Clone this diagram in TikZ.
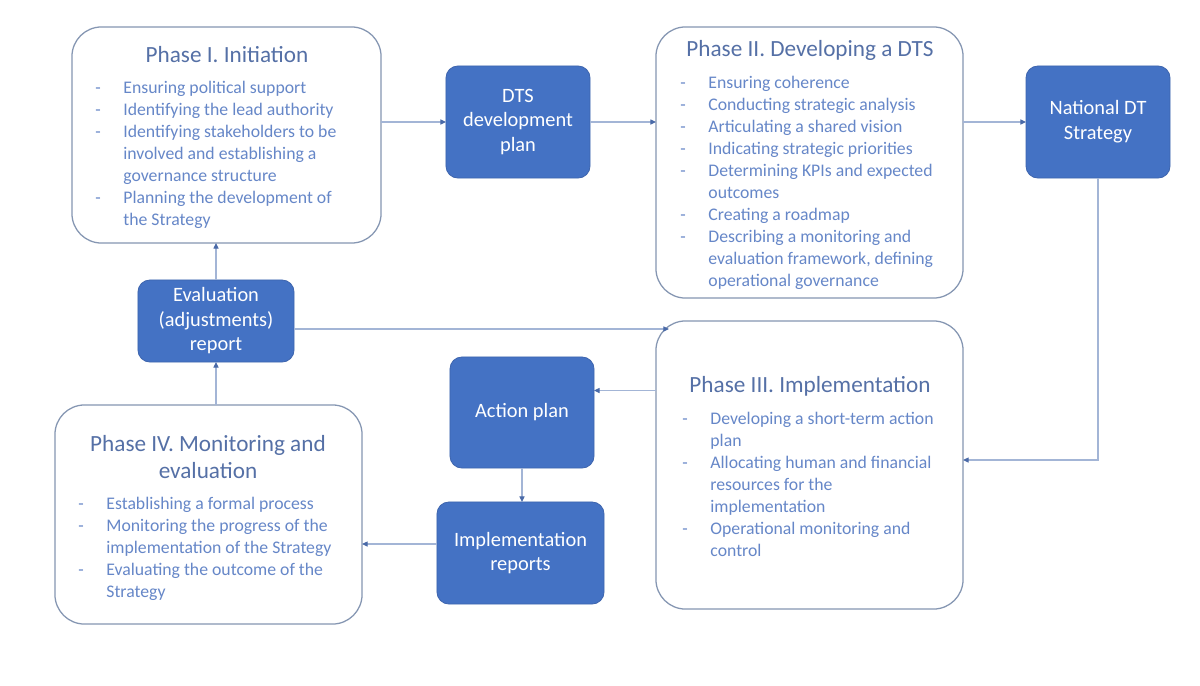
\documentclass[tikz,border=0pt]{standalone}
\usepackage{fontspec}
\setmainfont{Carlito}
\usetikzlibrary{arrows.meta,calc}
\definecolor{bfill}{HTML}{4472C4}
\definecolor{bdraw}{HTML}{3E65AE}
\definecolor{pborder}{HTML}{8596B2}
\definecolor{titlec}{HTML}{5570A6}
\definecolor{itemc}{HTML}{6687C8}
\definecolor{linec}{HTML}{A3B5D6}
\definecolor{tipc}{HTML}{4A6AA8}
\newcommand\dashitem[1]{\makebox[20pt][l]{-}#1}
\newcommand\contitem[1]{\hspace*{20pt}#1}
\begin{document}
\begin{tikzpicture}[x=0.025cm,y=-0.025cm,
  phasebox/.style={draw=pborder,line width=0.9pt,rounded corners=21pt,fill=white,inner sep=0pt,outer sep=0pt},
  bluebox/.style={draw=bdraw,line width=0.6pt,fill=bfill,rounded corners=8.5pt,inner sep=0pt,outer sep=0pt,
    text=white,align=center,font=\fontsize{14.5}{17.7}\selectfont},
  ptitle/.style={text=titlec,font=\fontsize{16.5}{19.8}\selectfont,inner sep=0pt,align=center},
  plist/.style={text=itemc,font=\fontsize{12.6}{15.6}\selectfont,inner sep=0pt,align=left,anchor=north west},
  conn/.style={draw=linec,line width=0.8pt,-{Triangle[length=4pt,width=3.6pt,color=tipc]}}
]
\fill[white] (0,0) rectangle (1200,685);
\useasboundingbox (0,0) rectangle (1200,685);

% boxes
\node[phasebox,minimum width=7.725cm,minimum height=5.4cm] (p1) at (226.5,135) {};
\node[bluebox,minimum width=3.6cm,minimum height=2.8cm] (dts) at (518,122) {DTS\\development\\plan};
\node[phasebox,minimum width=7.675cm,minimum height=6.775cm] (p2) at (809.5,162.5) {};
\node[bluebox,minimum width=3.6cm,minimum height=2.8cm] (ndt) at (1098,122) {National DT\\Strategy};
\node[bluebox,minimum width=3.9cm,minimum height=2.05cm,font=\fontsize{14.5}{17.4}\selectfont] (ev) at (216,321) {Evaluation\\(adjustments)\\report};
\node[phasebox,minimum width=7.675cm,minimum height=7.2cm] (p3) at (809.5,465) {};
\node[bluebox,minimum width=3.6cm,minimum height=2.775cm] (ap) at (522,412.5) {Action plan};
\node[phasebox,minimum width=7.675cm,minimum height=5.475cm] (p4) at (208.5,514.5) {};
\node[bluebox,minimum width=4.175cm,minimum height=2.55cm] (ir) at (520.5,553) {Implementation\\reports};

% titles
\node[ptitle] (p1t) at (227,55) {Phase I. Initiation};
\node[ptitle] (p2t) at (810,50) {Phase II. Developing a DTS};
\node[ptitle] (p3t) at (810,386) {Phase III. Implementation};
\node[ptitle] (p4t) at (208,457) {Phase IV. Monitoring and\\evaluation};

% lists
\node[plist] (p1l) at (95,78) {\strut\dashitem{Ensuring political support}\\
\dashitem{Identifying the lead authority}\\
\dashitem{Identifying stakeholders to be}\\
\contitem{involved and establishing a}\\
\contitem{governance structure}\\
\dashitem{Planning the development of}\\
\contitem{the Strategy}};

\node[plist] (p2l) at (680,73) {\strut\dashitem{Ensuring coherence}\\
\dashitem{Conducting strategic analysis}\\
\dashitem{Articulating a shared vision}\\
\dashitem{Indicating strategic priorities}\\
\dashitem{Determining KPIs and expected}\\
\contitem{outcomes}\\
\dashitem{Creating a roadmap}\\
\dashitem{Describing a monitoring and}\\
\contitem{evaluation framework, defining}\\
\contitem{operational governance}};

\node[plist] (p3l) at (682,409) {\strut\dashitem{Developing a short-term action}\\
\contitem{plan}\\
\dashitem{Allocating human and financial}\\
\contitem{resources for the}\\
\contitem{implementation}\\
\dashitem{Operational monitoring and}\\
\contitem{control}};

\node[plist] (p4l) at (78,494) {\strut\dashitem{Establishing a formal process}\\
\dashitem{Monitoring the progress of the}\\
\contitem{implementation of the Strategy}\\
\dashitem{Evaluating the outcome of the}\\
\contitem{Strategy}};

% connector helper coordinates
\coordinate (apin) at ($(ap.east)+(0,-22)$);
\coordinate (irout) at ($(ir.west)+(0,-9)$);
\coordinate (evout) at ($(ev.east)+(0,8)$);
\coordinate (p3c) at (669,329);

% connectors
\draw[conn] (p1.east |- dts.west) -- (dts.west);
\draw[conn] (dts.east) -- (dts.east -| p2.west);
\draw[conn] (ndt.west -| p2.east) -- (ndt.west);
\draw[conn] (ndt.south) |- ($(p3.east)+(0,-5)$);
\draw[conn] (apin -| p3.west) -- (apin);
\draw[conn] (ap.south) -- (ap.south |- ir.north);
\draw[conn] (irout) -- (irout -| p4.east);
\draw[conn] (ev.south |- p4.north) -- (ev.south);
\draw[conn] (ev.north) -- (ev.north |- p1.south);
\draw[conn] (evout) -- (p3c);
\end{tikzpicture}
\end{document}
